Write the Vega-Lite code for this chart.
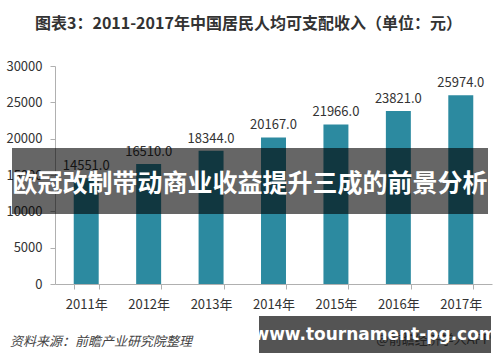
{
  "$schema": "https://vega.github.io/schema/vega-lite/v6.json",
  "width": 437,
  "height": 218,
  "autosize": {"type": "none"},
  "padding": {"left": 55, "top": 66, "right": 8, "bottom": 78},
  "background": "white",
  "config": {
    "view": {"stroke": null},
    "font": "Noto Sans CJK SC"
  },
  "title": {
    "text": "图表3：2011-2017年中国居民人均可支配收入（单位：元）",
    "fontSize": 16,
    "fontWeight": "bold",
    "color": "#333333",
    "anchor": "start",
    "frame": "group",
    "dx": -20,
    "offset": 28,
    "font": "Noto Sans CJK SC"
  },
  "resolve": {"axis": {"x": "independent", "y": "independent"}},
  "data": {
    "values": [
      {"year": "2011年", "income": 14551},
      {"year": "2012年", "income": 16510},
      {"year": "2013年", "income": 18344},
      {"year": "2014年", "income": 20167},
      {"year": "2015年", "income": 21966},
      {"year": "2016年", "income": 23821},
      {"year": "2017年", "income": 25974}
    ]
  },
  "layer": [
    {
      "mark": {"type": "bar", "color": "#2c8aa0"},
      "encoding": {
        "x": {
          "field": "year",
          "type": "nominal",
          "sort": null,
          "scale": {"paddingInner": 0.6, "paddingOuter": 0.3},
          "axis": {
            "title": null,
            "labelAngle": 0,
            "labelFontSize": 13,
            "labelColor": "#333333",
            "labelPadding": 9,
            "tickBand": "extent",
            "tickSize": 5,
            "tickColor": "#b0b0b0",
            "domainColor": "#b0b0b0",
            "grid": false
          }
        },
        "y": {
          "field": "income",
          "type": "quantitative",
          "scale": {"domain": [0, 30000], "nice": false},
          "axis": {
            "title": null,
            "values": [0, 5000, 10000, 15000, 20000, 25000, 30000],
            "format": "d",
            "labelOverlap": false,
            "labelFontSize": 13,
            "labelColor": "#333333",
            "labelPadding": 8,
            "tickSize": 5,
            "tickColor": "#b0b0b0",
            "domainColor": "#b0b0b0",
            "grid": false
          }
        }
      }
    },
    {
      "mark": {"type": "text", "baseline": "bottom", "dy": -5, "fontSize": 13, "color": "#333333"},
      "encoding": {
        "x": {"field": "year", "type": "nominal", "sort": null, "axis": null},
        "y": {"field": "income", "type": "quantitative", "scale": {"domain": [0, 30000], "nice": false}, "axis": null},
        "text": {"field": "income", "format": ".1f"}
      }
    },
    {
      "data": {"values": [{"top": 18716, "bottom": 9633}]},
      "mark": {"type": "rect", "color": "#000000", "opacity": 0.6, "x": -43, "x2": 433},
      "encoding": {
        "y": {"field": "top", "type": "quantitative", "scale": {"domain": [0, 30000], "nice": false}, "axis": null},
        "y2": {"field": "bottom"}
      }
    },
    {
      "data": {"values": [{"note": "欧冠改制带动商业收益提升三成的前景分析", "pos": 13700}]},
      "mark": {"type": "text", "x": 195, "align": "center", "baseline": "middle", "fontSize": 25, "fontWeight": "bold", "color": "#ffffff"},
      "encoding": {
        "y": {"field": "pos", "type": "quantitative", "scale": {"domain": [0, 30000], "nice": false}, "axis": null},
        "text": {"field": "note"}
      }
    },
    {
      "data": {"values": [{"note": "资料来源：前瞻产业研究院整理", "pos": -7950}]},
      "mark": {"type": "text", "x": -45, "align": "left", "baseline": "middle", "fontSize": 13, "fontStyle": "italic", "color": "#444444"},
      "encoding": {
        "y": {"field": "pos", "type": "quantitative", "scale": {"domain": [0, 30000], "nice": false}, "axis": null},
        "text": {"field": "note"}
      }
    },
    {
      "data": {"values": [{"note": "@前瞻经济学人APP", "pos": -7700}]},
      "mark": {"type": "text", "x": 436, "align": "right", "baseline": "middle", "fontSize": 13, "color": "#666666"},
      "encoding": {
        "y": {"field": "pos", "type": "quantitative", "scale": {"domain": [0, 30000], "nice": false}, "axis": null},
        "text": {"field": "note"}
      }
    },
    {
      "data": {"values": [{"top": -4400, "bottom": -9500}]},
      "mark": {"type": "rect", "color": "#000000", "opacity": 0.67, "x": 204, "x2": 436},
      "encoding": {
        "y": {"field": "top", "type": "quantitative", "scale": {"domain": [0, 30000], "nice": false}, "axis": null},
        "y2": {"field": "bottom"}
      }
    },
    {
      "data": {"values": [{"note": "www.tournament-pg.com", "pos": -7000}]},
      "mark": {"type": "text", "x": 320, "align": "center", "baseline": "middle", "fontSize": 17, "fontWeight": "bold", "font": "DejaVu Sans", "color": "#ffffff"},
      "encoding": {
        "y": {"field": "pos", "type": "quantitative", "scale": {"domain": [0, 30000], "nice": false}, "axis": null},
        "text": {"field": "note"}
      }
    }
  ]
}
